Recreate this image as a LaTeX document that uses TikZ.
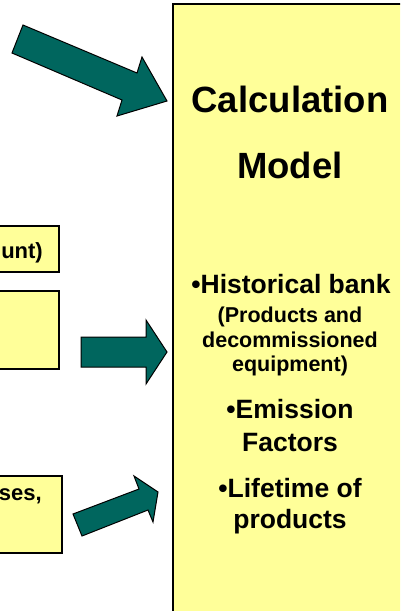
\documentclass[tikz,border=0pt]{standalone}
\usepackage{fontspec}
\setmainfont{Liberation Sans}
\usetikzlibrary{%
  positioning,%
  calc,%
}
\definecolor{boxyellow}{HTML}{FFFF99}
\definecolor{arrowteal}{HTML}{00665E}
\tikzset{
  inbox/.style={draw=black, line width=1.2pt, fill=boxyellow},
  blockarrow/.style={draw=black, line width=1pt, fill=arrowteal, line join=miter},
  title/.style={font=\bfseries\fontsize{36.5}{40}\selectfont, anchor=base},
  item/.style={font=\bfseries\fontsize{26.5}{30}\selectfont, anchor=base},
  note/.style={font=\bfseries\fontsize{21.5}{24}\selectfont, anchor=base},
  cut/.style={font=\bfseries\fontsize{22}{26}\selectfont, anchor=base east, inner sep=0pt},
}

\begin{document}
\begin{tikzpicture}[x=1pt,y=-1pt]
    \useasboundingbox (0,0) rectangle (400,611);
    \clip (0,0) rectangle (400,611);
    % calculation model box
    \draw[inbox] (173,4) rectangle (420,630);
    \node[title] (calc) at (290,112) {Calculation};
    \node[title] (model) at (290,178) {Model};
    \node[item] (hist) at (291,293) {•Historical bank};
    \node[note] (prod) at (290,322) {(Products and};
    \node[note] (decom) at (290,347) {decommissioned};
    \node[note] (equip) at (290,371) {equipment)};
    \node[item] (emis) at (290,418) {•Emission};
    \node[item] (fact) at (290,451) {Factors};
    \node[item] (life) at (290,497) {•Lifetime of};
    \node[item] (prods) at (290,528) {products};
    % input boxes (cut at the left)
    \draw[inbox] (-20,226) rectangle (59,272);
    \node[cut] (amount) at (43,258) {unt)};
    \draw[inbox] (-20,291) rectangle (59,369);
    \draw[inbox] (-20,476) rectangle (62,553);
    \node[cut] (uses) at (42,500) {ses,};
    % arrows
    \draw[blockarrow] (23,25) -- (137,73) -- (142,57) -- (167,101)
        -- (117,116) -- (122,100) -- (12,53) -- cycle;
    \draw[blockarrow] (81,337) -- (146,337) -- (146,320) -- (167,352)
        -- (146,384) -- (146,367) -- (81,367) -- cycle;
    \draw[blockarrow] (73,514) -- (139,489) -- (134,476) -- (158,492)
        -- (153,522) -- (148,510) -- (82,536) -- cycle;
\end{tikzpicture}
\end{document}
